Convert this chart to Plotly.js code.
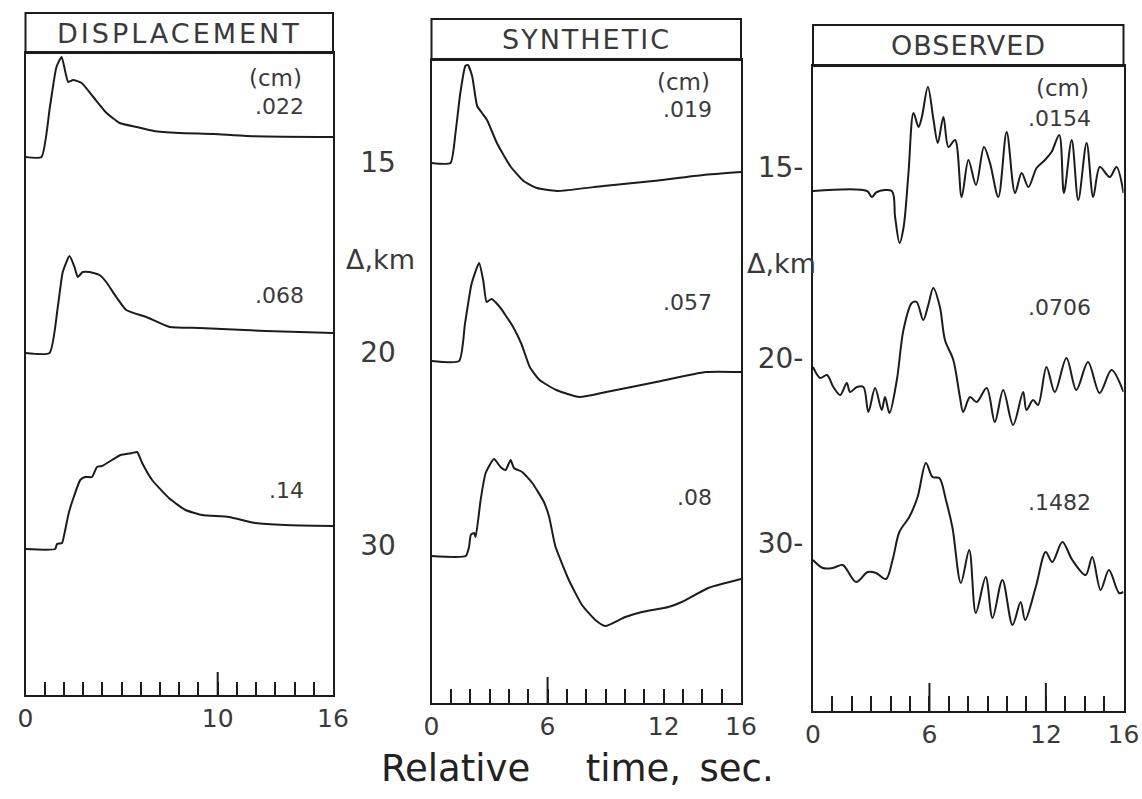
<!DOCTYPE html>
<html>
<head>
<meta charset="utf-8">
<script src="https://cdn.plot.ly/plotly-3.0.1.min.js"></script>
<style>html,body{margin:0;padding:0;background:#fff;}#chart{width:1142px;height:799px;}</style>
</head>
<body>
<div id="chart"></div>
<script>
// ---------------- DATA (time in s, amplitude in plot units above trace baseline) ----------------
const panelTitles = ["DISPLACEMENT", "SYNTHETIC", "OBSERVED"];
const distanceLabels = ["15", "20", "30"];           // Δ, km for the three traces
const unitLabel = "(cm)";
const ampLabelsDisp = [".022", ".068", ".14"];
const ampLabelsSyn  = [".019", ".057", ".08"];
const ampLabelsObs  = [".0154", ".0706", ".1482"];

// Displacement
const dispT1 = [0,0.83,1.27,1.61,1.88,2.22,2.48,2.92,3.53,4.22,4.9,5.78,6.67,8.0,9.8,11.5,16];
const dispA1 = [0,0,50,90,100,75,77,74,60,44,34,30,26,24,23,21,20];
const dispT2 = [0,1.25,1.68,1.94,2.29,2.55,2.72,2.98,3.33,3.85,4.2,4.72,5.24,6.29,7.5,9.06,12.5,16];
const dispA2 = [0,0,46,81,97,86,76,81,81,78,71,56,43,36,26,25,22,20];
const dispT3 = [0,1.54,1.64,1.9,2.0,2.25,2.51,2.85,3.11,3.46,3.72,3.98,4.5,4.94,5.55,5.81,6.07,6.59,7.46,8.32,9.19,10.58,11.97,13.53,16];
const dispA3 = [0,0,5,6,13,36,52,69,72,72,82,83,89,94,96,97,86,69,51,39,34,32,26,24,23];

// Synthetic
const synT1 = [0,0.98,1.24,1.49,1.75,1.88,2.1,2.36,2.61,2.87,3.38,4.07,4.76,5.45,6.48,8.89,11.46,14.04,16];
const synA1 = [0,0,30,70,97,98,87,57,50,43,20,-3,-18,-25,-28,-23,-18,-12,-9];
const synT2 = [0,1.43,1.73,2.07,2.46,2.67,2.85,3.1,3.53,4.22,4.65,5.08,5.59,6.45,7.65,9.03,11.61,14.19,16];
const synA2 = [0,0,37,77,98,81,59,62,54,34,17,-6,-19,-29,-36,-31,-21,-11,-11];
const synT3 = [0,1.77,1.94,2.03,2.2,2.28,2.54,2.8,3.23,3.57,3.83,4.09,4.26,4.69,5.21,5.81,6.07,6.4,7.1,7.78,8.47,8.98,10.02,10.88,12.25,12.94,14.31,16];
const synA3 = [0,0,9,21,23,19,56,83,97,89,86,96,88,84,73,54,40,10,-24,-49,-64,-70,-61,-56,-51,-46,-32,-23];

// Observed
const obsT1 = [0,2.78,3.03,3.29,4.06,4.23,4.46,4.67,4.92,5.18,5.44,5.61,5.92,6.21,6.43,6.72,6.98,7.32,7.66,8.01,8.4,8.81,9.12,9.55,9.98,10.41,10.75,11.1,11.52,11.95,12.29,12.69,12.93,13.33,13.67,14.1,14.44,14.78,15.29,15.64,16];
const obsA1 = [0,0,-6,-1,0,-26,-52,-36,18,78,64,74,104,71,48,74,44,51,-6,31,6,44,28,-6,59,-2,18,4,23,31,39,56,-2,51,-9,48,-6,24,14,24,-2];
const obsT2 = [0,0.37,0.72,1.05,1.4,1.74,1.91,2.26,2.6,2.85,3.2,3.54,3.71,3.94,4.32,4.66,5.09,5.34,5.68,5.94,6.2,6.54,6.8,7.23,7.57,7.74,8.09,8.43,8.95,9.37,9.8,10.31,10.83,11.0,11.34,11.6,12.03,12.46,13.06,13.57,14.17,14.77,15.38,16];
const obsA2 = [0,-11,-8,-20,-28,-16,-25,-20,-20,-45,-21,-43,-30,-46,-13,37,64,65,47,62,79,60,27,7,-30,-45,-30,-35,-21,-55,-23,-58,-25,-43,-33,-38,0,-25,9,-23,5,-26,-3,-25];
const obsT3 = [0,0.5,1.02,1.53,2.22,2.82,3.25,3.76,4.1,4.45,4.96,5.39,5.82,6.16,6.51,6.85,7.19,7.62,8.05,8.39,8.9,9.25,9.76,10.28,10.7,10.93,11.48,11.99,12.33,12.85,13.36,14.05,14.39,14.82,15.25,15.77,16];
const obsA3 = [2,-6,-6,-3,-20,-10,-11,-17,2,30,45,65,99,85,84,62,34,-21,12,-51,-15,-56,-18,-63,-40,-58,-25,10,0,20,2,-13,5,-28,-8,-31,-30];

// trace baselines (plot units above bottom of each panel)
const offsetsDisp = [538, 342, 146];
const offsetsSyn  = [540, 342, 147];
const offsetsObs  = [520, 344, 149];

// x-axis tick labels and long tick marks
const xLabelVals = [[0,10,16],[0,6,12,16],[0,6,12,16]];
const xMajorVals = [[10],[6],[6,12]];
// y tick label positions (plot units) for middle and right panels
const yTickSyn = [541, 351, 158];
const yTickObs = [544, 353, 168];
const yTickTextObs = distanceLabels.map(s => s + "-");

// ---------------- LAYOUT GEOMETRY (pixels) ----------------
const W = 1142, H = 799;
const panels = [
  {l:25.5, r:333, top:53, bot:695, boxTop:13, spacing:3},
  {l:431.5, r:741, top:60, bot:703, boxTop:19, spacing:2},
  {l:813, r:1123.5, top:66, bot:711, boxTop:25, spacing:1}
];
const ink = "#1c1c1c";
const txt = "#3a3a3a";
const FONT = "DejaVu Sans";

const series = [
  {T:[dispT1,dispT2,dispT3], A:[dispA1,dispA2,dispA3], off:offsetsDisp, smooth:0.5},
  {T:[synT1,synT2,synT3], A:[synA1,synA2,synA3], off:offsetsSyn, smooth:0.5},
  {T:[obsT1,obsT2,obsT3], A:[obsA1,obsA2,obsA3], off:offsetsObs, smooth:0.9}
];

const data = [];
series.forEach((s, p) => {
  const xa = p === 0 ? "x" : "x" + (p + 1);
  const ya = p === 0 ? "y" : "y" + (p + 1);
  for (let k = 0; k < 3; k++) {
    data.push({
      type: "scatter", mode: "lines", xaxis: xa, yaxis: ya,
      x: s.T[k], y: s.A[k].map(v => v + s.off[k]),
      line: {color: ink, width: 2, shape: "spline", smoothing: s.smooth},
      hoverinfo: "skip"
    });
  }
});

const layout = {
  width: W, height: H,
  margin: {l:0, r:0, t:0, b:0},
  paper_bgcolor: "#fff", plot_bgcolor: "#fff",
  showlegend: false,
  font: {family: FONT, color: txt, size: 24},
  shapes: [], annotations: []
};

const minorLen = [13, 14, 15];
const majorLen = [23, 26, 28];

panels.forEach((pn, p) => {
  const sx = p === 0 ? "" : String(p + 1);
  const xd = [pn.l / W, pn.r / W];
  const yd = [1 - pn.bot / H, 1 - pn.top / H];
  const hUnits = pn.bot - pn.top;
  const labels = xLabelVals[p].map(String);
  layout["xaxis" + sx] = {
    domain: xd, range: [0, 16], anchor: "y" + sx,
    showline: true, mirror: true, linewidth: 2, linecolor: ink,
    showgrid: false, zeroline: false,
    ticks: "inside", tickmode: "array", tickvals: xLabelVals[p], ticktext: labels,
    ticklen: minorLen[p], tickwidth: 2, tickcolor: ink,
    minor: {tickmode: "linear", tick0: 0, dtick: 1, ticks: "inside", ticklen: minorLen[p], tickwidth: 2, tickcolor: ink, showgrid: false},
    tickfont: {family: FONT, size: 25, color: txt},
    ticklabelstandoff: 0,
    fixedrange: true
  };
  // long tick marks, drawn in the axis' own scale
  xMajorVals[p].forEach(v => {
    layout.shapes.push({
      type: "line", xref: "x" + sx, yref: "y" + sx + " domain",
      x0: v, x1: v, y0: 0, y1: majorLen[p] / hUnits,
      line: {color: ink, width: 2}
    });
  });
  const yax = {
    domain: yd, range: [0, hUnits], anchor: "x" + sx,
    showline: true, mirror: true, linewidth: 2, linecolor: ink,
    showgrid: false, zeroline: false, ticks: "", fixedrange: true,
    tickfont: {family: FONT, size: 28, color: txt}
  };
  if (p === 0) {
    yax.showticklabels = false;
  } else if (p === 1) {
    yax.tickmode = "array"; yax.tickvals = yTickSyn; yax.ticktext = distanceLabels;
    yax.ticklabelstandoff = 28;
  } else {
    yax.tickmode = "array"; yax.tickvals = yTickObs; yax.ticktext = yTickTextObs;
    yax.ticklabelstandoff = 2;
  }
  layout["yaxis" + sx] = yax;

  // title box
  layout.shapes.push({
    type: "rect", xref: "paper", yref: "paper",
    x0: xd[0], x1: xd[1], y0: yd[1], y1: 1 - pn.boxTop / H,
    line: {color: ink, width: 2}, fillcolor: "rgba(0,0,0,0)"
  });
  layout.annotations.push({
    xref: "paper", yref: "paper", x: (xd[0] + xd[1]) / 2, y: 1 - (pn.boxTop + pn.top) / 2 / H,
    text: '<span style="letter-spacing:' + pn.spacing + 'px">' + panelTitles[p] + '</span>',
    showarrow: false, xanchor: "center", yanchor: "middle",
    font: {family: FONT, size: 27, color: txt}
  });
});

// amplitude labels
const ampSets = [ampLabelsDisp, ampLabelsSyn, ampLabelsObs];
const ampX = [14.6, 14.6, 14.45];
const ampY = [[588, 400, 205], [593, 401, 206], [593, 404, 209]];
const unitY = [617, 621, 623];
ampSets.forEach((set, p) => {
  const sx = p === 0 ? "" : String(p + 1);
  layout.annotations.push({
    xref: "x" + sx, yref: "y" + sx, x: ampX[p] - 0.1, y: unitY[p], text: unitLabel,
    showarrow: false, xanchor: "right", yanchor: "middle",
    font: {family: FONT, size: 23, color: txt}
  });
  set.forEach((t, k) => {
    layout.annotations.push({
      xref: "x" + sx, yref: "y" + sx, x: ampX[p], y: ampY[p][k], text: t,
      showarrow: false, xanchor: "right", yanchor: "middle",
      font: {family: FONT, size: 22, color: txt}
    });
  });
});

// Δ, km labels
layout.annotations.push({xref:"paper", yref:"paper", x:380/W, y:1-260/H, text:"Δ,km", showarrow:false,
  xanchor:"center", yanchor:"middle", font:{family:FONT, size:27, color:txt}});
layout.annotations.push({xref:"paper", yref:"paper", x:781/W, y:1-263/H, text:"Δ,km", showarrow:false,
  xanchor:"center", yanchor:"middle", font:{family:FONT, size:27, color:txt}});

// x axis title
layout.annotations.push({xref:"paper", yref:"paper", x:577/W, y:1-768/H,
  text:"Relative\u2003\u2002time,\u2002sec.", showarrow:false,
  xanchor:"center", yanchor:"middle", font:{family:FONT, size:37, color:"#222"}});

Plotly.newPlot("chart", data, layout, {staticPlot: true, displayModeBar: false});
</script>
</body>
</html>
